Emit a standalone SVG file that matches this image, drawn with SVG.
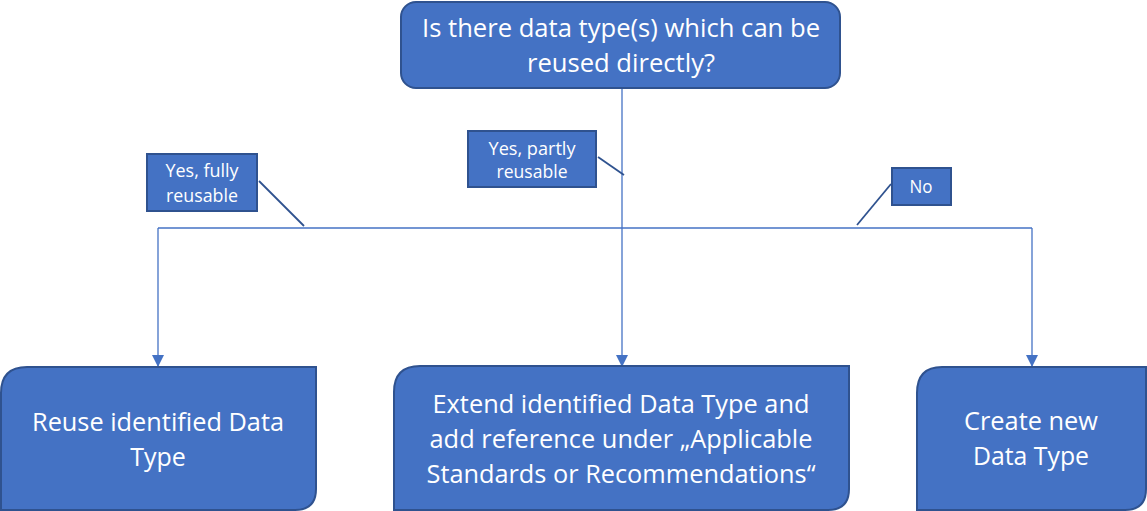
<svg xmlns="http://www.w3.org/2000/svg" width="1147" height="511" viewBox="0 0 1147 511">
<style>
.box{fill:#4472C4;stroke:#2F528F;stroke-width:2}
.lbl{fill:#4472C4;stroke:#2F528F;stroke-width:2}
.t{fill:#fff;font-family:"Open Sans","Liberation Sans",sans-serif;font-size:25px;text-anchor:middle}
.s{fill:#fff;font-family:"Open Sans","Liberation Sans",sans-serif;font-size:17.5px;text-anchor:middle}
.con{fill:none;stroke:#4472C4;stroke-width:1.3}
.call{fill:none;stroke:#2F528F;stroke-width:1.8}
</style>
<defs>
<marker id="arr" viewBox="0 0 12 12" refX="12" refY="6" markerWidth="12" markerHeight="12" markerUnits="userSpaceOnUse" orient="auto">
<path d="M0,0 L12,6 L0,12 Z" fill="#4472C4"/>
</marker>
</defs>
<g id="connectors">
<path class="con" d="M622,88 L622,367" marker-end="url(#arr)"/>
<path class="con" d="M158,228 L1032,228"/>
<path class="con" d="M158,228 L158,367" marker-end="url(#arr)"/>
<path class="con" d="M1032,228 L1032,367" marker-end="url(#arr)"/>
</g>
<g id="q">
<rect class="box" x="401" y="2" width="439" height="86" rx="15"/>
<text class="t" x="621" y="37" textLength="398" lengthAdjust="spacingAndGlyphs">Is there data type(s) which can be</text>
<text class="t" x="621" y="72" textLength="188" lengthAdjust="spacingAndGlyphs">reused directly?</text>
</g>
<g id="reuse">
<path class="box" d="M27,367 L316,367 L316,489 Q316,510 295,510 L1,510 L1,393 Q1,367 27,367 Z"/>
<text class="t" x="158" y="431" textLength="252" lengthAdjust="spacingAndGlyphs">Reuse identified Data</text>
<text class="t" x="158" y="466">Type</text>
</g>
<g id="extend">
<path class="box" d="M420,366 L849,366 L849,489 Q849,510 828,510 L394,510 L394,392 Q394,366 420,366 Z"/>
<text class="t" x="621" y="413" textLength="377" lengthAdjust="spacingAndGlyphs">Extend identified Data Type and</text>
<text class="t" x="621" y="448" textLength="383" lengthAdjust="spacingAndGlyphs">add reference under „Applicable</text>
<text class="t" x="621" y="483" textLength="389" lengthAdjust="spacingAndGlyphs">Standards or Recommendations“</text>
</g>
<g id="create">
<path class="box" d="M942,367 L1146,367 L1146,489 Q1146,510 1125,510 L917,510 L917,393 Q917,367 942,367 Z"/>
<text class="t" x="1031" y="430" textLength="134" lengthAdjust="spacingAndGlyphs">Create new</text>
<text class="t" x="1031" y="465" textLength="116" lengthAdjust="spacingAndGlyphs">Data Type</text>
</g>
<g id="lbl-fully">
<rect class="lbl" x="147" y="154" width="110" height="57"/>
<text class="s" x="202" y="177" textLength="73" lengthAdjust="spacingAndGlyphs">Yes, fully</text>
<text class="s" x="202" y="202" textLength="72" lengthAdjust="spacingAndGlyphs">reusable</text>
<path class="call" d="M259,181 L304,226"/>
</g>
<g id="lbl-partly">
<rect class="lbl" x="468" y="131" width="128" height="56"/>
<text class="s" x="532" y="155" textLength="87" lengthAdjust="spacingAndGlyphs">Yes, partly</text>
<text class="s" x="532" y="178" textLength="71" lengthAdjust="spacingAndGlyphs">reusable</text>
<path class="call" d="M598,157 L624,175"/>
</g>
<g id="lbl-no">
<rect class="lbl" x="892" y="168" width="59" height="37"/>
<text class="s" x="921" y="193" textLength="23" lengthAdjust="spacingAndGlyphs">No</text>
<path class="call" d="M891,184 L857,225"/>
</g>
</svg>
